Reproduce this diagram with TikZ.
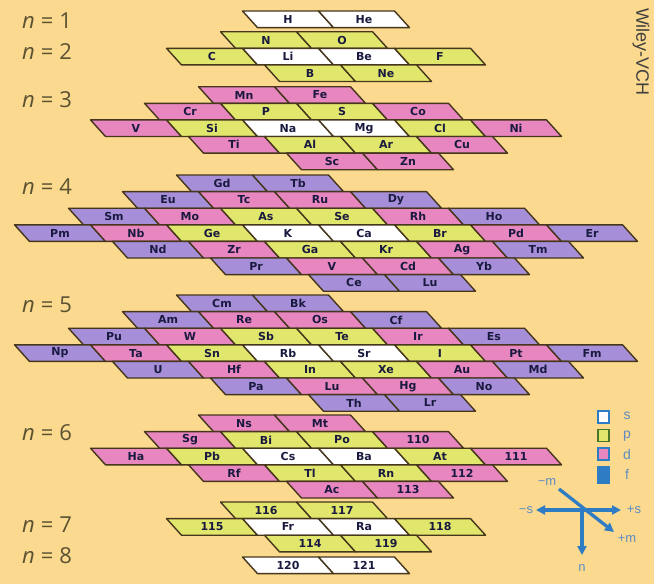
\documentclass[tikz,border=0pt]{standalone}
\usepackage{fontspec}
\usetikzlibrary{arrows.meta}

\newfontfamily\cellfont{DejaVu Sans}
\newfontfamily\qfont{Open Sans}
\newfontfamily\pubfont{Liberation Sans}

\definecolor{bg}{HTML}{FBD98E}
\definecolor{sorb}{HTML}{FFFFFF}
\definecolor{porb}{HTML}{E1E76C}
\definecolor{dorb}{HTML}{E886C0}
\definecolor{forb}{HTML}{A68FD8}
\definecolor{edge}{HTML}{45361C}
\definecolor{ink}{HTML}{1A1A40}
\definecolor{olive}{HTML}{5B5233}
\definecolor{axis}{HTML}{2E7CC4}
\definecolor{axislab}{HTML}{5F8DC2}

% cell geometry: width, slant, height
\def\cw{76}
\def\sl{15}
\def\ch{16.6}

\tikzset{
  orbcell/.style={draw=edge, line width=1.4pt, line join=round},
  orblab/.style={font=\cellfont\bfseries\fontsize{11}{11}\selectfont, text=ink, inner sep=0pt},
  qlab/.style={font=\qfont\fontsize{22}{22}\selectfont, text=olive, anchor=west, inner sep=0pt},
  legbox/.style={line width=1.2pt},
  leglab/.style={font=\pubfont\fontsize{14}{14}\selectfont, text=axislab, inner sep=0pt},
  axlab/.style={font=\pubfont\fontsize{13}{13}\selectfont, text=axislab, inner sep=0pt},
  axline/.style={draw=axis, line width=3.3pt},
  axtip/.style={-{Triangle[length=9pt,width=9pt]}},
  axtips/.style={{Triangle[length=9pt,width=9pt]}-{Triangle[length=9pt,width=9pt]}},
}

% one row of slanted cells: #1 name, #2 cell count, #3 centre x, #4 top y, #5 label/colour list
\newcommand\orbrow[5]{%
  \foreach \lab/\col [count=\i] in {#5} {
    \pgfmathsetmacro\xc{#3+(\i-(#2+1)/2)*\cw}
    \pgfmathsetmacro\xl{\xc-\cw/2-\sl/2}
    \pgfmathsetmacro\xr{\xc+\cw/2-\sl/2}
    \pgfmathsetmacro\yb{#4+\ch}
    \pgfmathsetmacro\ym{#4+\ch/2}
    \filldraw[orbcell, fill=\col] (\xl,#4) -- (\xr,#4) -- (\xr+\sl,\yb) -- (\xl+\sl,\yb) -- cycle;
    \node[orblab] (#1-\i) at (\xc,\ym) {\lab};
  }%
}

\begin{document}
\begin{tikzpicture}[x=1pt,y=-1pt]
\fill[bg] (0,0) rectangle (654,584);
\useasboundingbox (0,0) rectangle (654,584);

% shell labels
\node[qlab] (q1) at (22,21)  {\textit{n}\hspace{6pt}=\hspace{6pt}1};
\node[qlab] (q2) at (22,52)  {\textit{n}\hspace{6pt}=\hspace{6pt}2};
\node[qlab] (q3) at (22,100) {\textit{n}\hspace{6pt}=\hspace{6pt}3};
\node[qlab] (q4) at (22,187) {\textit{n}\hspace{6pt}=\hspace{6pt}4};
\node[qlab] (q5) at (22,305) {\textit{n}\hspace{6pt}=\hspace{6pt}5};
\node[qlab] (q6) at (22,433) {\textit{n}\hspace{6pt}=\hspace{6pt}6};
\node[qlab] (q7) at (22,525) {\textit{n}\hspace{6pt}=\hspace{6pt}7};
\node[qlab] (q8) at (22,556) {\textit{n}\hspace{6pt}=\hspace{6pt}8};

% n = 1
\orbrow{a0}{2}{326}{11}{H/sorb, He/sorb}

% n = 2
\orbrow{b0}{2}{304}{31.7}{N/porb, O/porb}
\orbrow{b1}{4}{326}{48.3}{C/porb, Li/sorb, Be/sorb, F/porb}
\orbrow{b2}{2}{348}{64.9}{B/porb, Ne/porb}

% n = 3
\orbrow{c0}{2}{282}{86.7}{Mn/dorb, Fe/dorb}
\orbrow{c1}{4}{304}{103.3}{Cr/dorb, P/porb, S/porb, Co/dorb}
\orbrow{c2}{6}{326}{119.9}{V/dorb, Si/porb, Na/sorb, Mg/sorb, Cl/porb, Ni/dorb}
\orbrow{c3}{4}{348}{136.5}{Ti/dorb, Al/porb, Ar/porb, Cu/dorb}
\orbrow{c4}{2}{370}{153.1}{Sc/dorb, Zn/dorb}

% n = 4
\orbrow{d0}{2}{260}{175}{Gd/forb, Tb/forb}
\orbrow{d1}{4}{282}{191.6}{Eu/forb, Tc/dorb, Ru/dorb, Dy/forb}
\orbrow{d2}{6}{304}{208.2}{Sm/forb, Mo/dorb, As/porb, Se/porb, Rh/dorb, Ho/forb}
\orbrow{d3}{8}{326}{224.8}{Pm/forb, Nb/dorb, Ge/porb, K/sorb, Ca/sorb, Br/porb, Pd/dorb, Er/forb}
\orbrow{d4}{6}{348}{241.4}{Nd/forb, Zr/dorb, Ga/porb, Kr/porb, Ag/dorb, Tm/forb}
\orbrow{d5}{4}{370}{258}{Pr/forb, V/dorb, Cd/dorb, Yb/forb}
\orbrow{d6}{2}{392}{274.6}{Ce/forb, Lu/forb}

% n = 5
\orbrow{e0}{2}{260}{295}{Cm/forb, Bk/forb}
\orbrow{e1}{4}{282}{311.6}{Am/forb, Re/dorb, Os/dorb, Cf/forb}
\orbrow{e2}{6}{304}{328.2}{Pu/forb, W/dorb, Sb/porb, Te/porb, Ir/dorb, Es/forb}
\orbrow{e3}{8}{326}{344.8}{Np/forb, Ta/dorb, Sn/porb, Rb/sorb, Sr/sorb, I/porb, Pt/dorb, Fm/forb}
\orbrow{e4}{6}{348}{361.4}{U/forb, Hf/dorb, In/porb, Xe/porb, Au/dorb, Md/forb}
\orbrow{e5}{4}{370}{378}{Pa/forb, Lu/dorb, Hg/dorb, No/forb}
\orbrow{e6}{2}{392}{394.6}{Th/forb, Lr/forb}

% n = 6
\orbrow{f0}{2}{282}{415}{Ns/dorb, Mt/dorb}
\orbrow{f1}{4}{304}{431.6}{Sg/dorb, Bi/porb, Po/porb, 110/dorb}
\orbrow{f2}{6}{326}{448.2}{Ha/dorb, Pb/porb, Cs/sorb, Ba/sorb, At/porb, 111/dorb}
\orbrow{f3}{4}{348}{464.8}{Rf/dorb, Tl/porb, Rn/porb, 112/dorb}
\orbrow{f4}{2}{370}{481.4}{Ac/dorb, 113/dorb}

% n = 7
\orbrow{g0}{2}{304}{502}{116/porb, 117/porb}
\orbrow{g1}{4}{326}{518.6}{115/porb, Fr/sorb, Ra/sorb, 118/porb}
\orbrow{g2}{2}{348}{535.2}{114/porb, 119/porb}

% n = 8
\orbrow{h0}{2}{326}{557}{120/sorb, 121/sorb}

% legend
\filldraw[legbox, draw=axis, fill=sorb] (598,411) rectangle (609,423);
\filldraw[legbox, draw=olive!80!green, fill=porb] (598,429.5) rectangle (609,441.5);
\filldraw[legbox, draw=axis, fill=dorb] (598,448) rectangle (609,460);
\filldraw[legbox, draw=axis, fill=axis] (598,466.5) rectangle (609,483);
\node[leglab] (ls) at (627,416) {s};
\node[leglab] (lp) at (627,436) {p};
\node[leglab] (ld) at (627,454) {d};
\node[leglab] (lf) at (627,474) {f};

% quantum-number axes
\coordinate (sw) at (536,510);
\coordinate (se) at (621,510);
\coordinate (mw) at (559,489);
\coordinate (me) at (614,532);
\coordinate (nt) at (582,510);
\coordinate (nb) at (582,555);
\draw[axline, axtips] (sw) -- (se);
\draw[axline, axtip] (mw) -- (me);
\draw[axline, axtip] (nt) -- (nb);
\node[axlab] (sminus) at (526,510) {−s};
\node[axlab] (splus)  at (634,510) {+s};
\node[axlab] (mminus) at (547,482) {−m};
\node[axlab] (mplus)  at (627,539) {+m};
\node[axlab] (nlab)   at (582,568) {n};

% publisher credit
\node[font=\pubfont\fontsize{18}{18}\selectfont, text=black!75, rotate=-90, inner sep=0pt] (pub) at (641,52) {Wiley-VCH};
\end{tikzpicture}
\end{document}
